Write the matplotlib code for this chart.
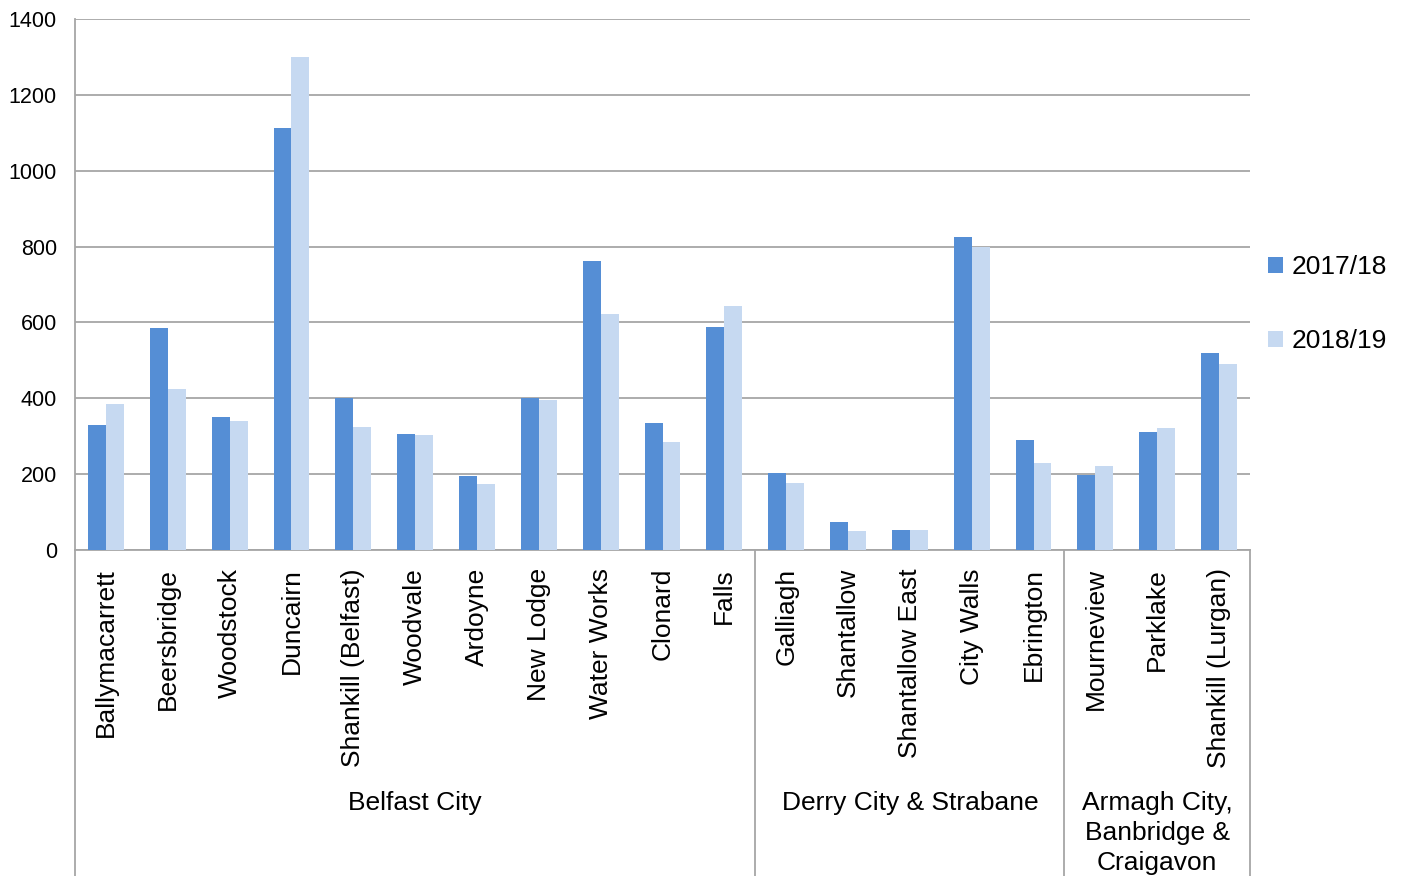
import matplotlib.pyplot as plt
import numpy as np

plt.rcParams['font.family'] = ['Liberation Sans', 'DejaVu Sans']

wards = ["Ballymacarrett", "Beersbridge", "Woodstock", "Duncairn", "Shankill (Belfast)",
         "Woodvale", "Ardoyne", "New Lodge", "Water Works", "Clonard", "Falls",
         "Galliagh", "Shantallow", "Shantallow East", "City Walls", "Ebrington",
         "Mourneview", "Parklake", "Shankill (Lurgan)"]
y2017 = [329, 584, 350, 1112, 400, 307, 195, 402, 762, 336, 589,
         202, 75, 54, 825, 290, 198, 311, 519]
y2018 = [386, 425, 339, 1300, 325, 302, 174, 396, 622, 286, 643,
         177, 50, 54, 798, 230, 222, 322, 491]
councils = ["Belfast City", "Derry City & Strabane", "Armagh City,\nBanbridge &\nCraigavon"]
council_sizes = [11, 5, 3]

palette = {"dark": "#558ED5", "light": "#C6D9F1", "grid": "#A6A6A6"}

W, H = 1402, 876
fig = plt.figure(figsize=(W / 100, H / 100), dpi=100)
ax = fig.add_axes([75 / W, (H - 550) / H, 1175 / W, 531 / H])

x = np.arange(len(wards))
bw = 0.29
b1 = ax.bar(x - bw / 2, y2017, bw, color=palette["dark"], label="2017/18", zorder=3)
b2 = ax.bar(x + bw / 2, y2018, bw, color=palette["light"], label="2018/19", zorder=3)

ax.set_xlim(-0.5, len(wards) - 0.5)
ax.set_ylim(0, 1400)
ax.set_yticks(range(0, 1401, 200))
ax.yaxis.grid(True, color=palette["grid"], linewidth=1.3, zorder=0)
ax.tick_params(axis='y', length=0, pad=13, labelsize=15.5)
ax.set_xticks(x)
ax.set_xticklabels(wards, rotation=90, fontsize=19)
ax.tick_params(axis='x', length=0, pad=13)

for s in ["top", "right"]:
    ax.spines[s].set_visible(False)
ax.spines["left"].set_color(palette["grid"])
ax.spines["bottom"].set_color(palette["grid"])
ax.spines["left"].set_linewidth(1.3)
ax.spines["bottom"].set_linewidth(1.3)

# group separators and council labels below the ward names
depth = -(H - 550) / 531.0
bounds = np.concatenate([[0], np.cumsum(council_sizes)]) - 0.5
for b in bounds:
    ax.plot([b, b], [0, depth], transform=ax.get_xaxis_transform(),
            color=palette["grid"], linewidth=1.3, clip_on=False)
lab_y = -(803 - 550) / 531.0
for i, name in enumerate(councils):
    mid = (bounds[i] + bounds[i + 1]) / 2
    if "\n" in name:
        ax.text(mid, lab_y + 12 / 531.0, name, transform=ax.get_xaxis_transform(),
                ha="center", va="top", fontsize=19, linespacing=1.32)
    else:
        ax.text(mid, lab_y, name, transform=ax.get_xaxis_transform(),
                ha="center", va="center", fontsize=19)

fig.legend(handles=[b1, b2], loc="center left", bbox_to_anchor=(1255 / W, 1 - 304 / H),
           frameon=False, fontsize=19, handlelength=0.55, handleheight=0.55,
           handletextpad=0.35, labelspacing=1.9, borderpad=0)

fig.savefig("out.png", dpi=100)
